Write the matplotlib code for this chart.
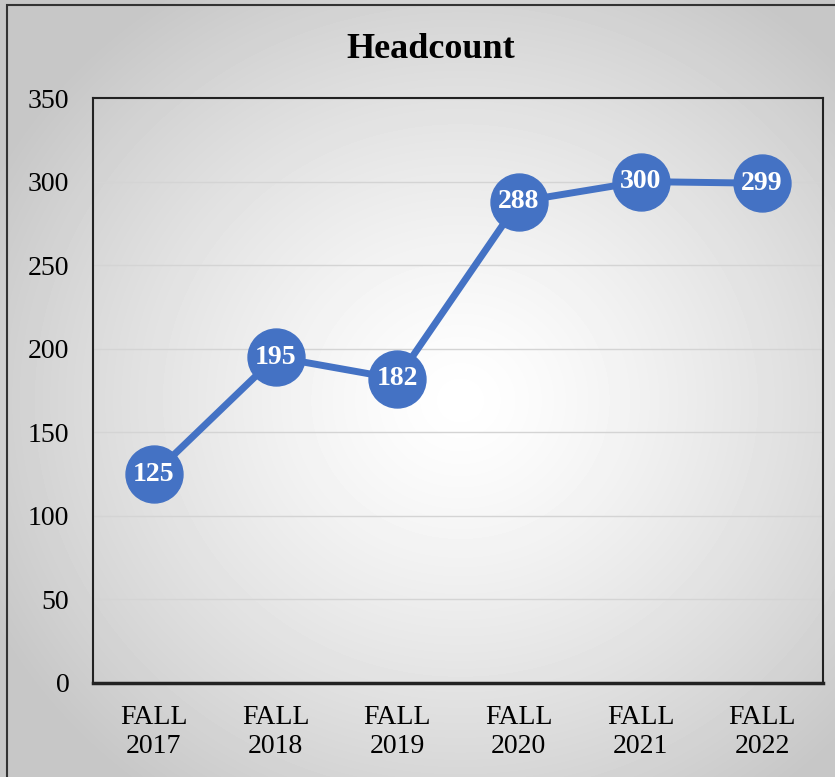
import numpy as np
import matplotlib.pyplot as plt
from matplotlib.patches import Rectangle

# ------- DATA -------
terms = ['FALL\n2017', 'FALL\n2018', 'FALL\n2019', 'FALL\n2020', 'FALL\n2021', 'FALL\n2022']
headcount = [125, 195, 182, 288, 300, 299]
yticks = [0, 50, 100, 150, 200, 250, 300, 350]

W, H = 835, 777
fig = plt.figure(figsize=(W / 100, H / 100), dpi=100)

# radial gradient background over the whole figure
bg = fig.add_axes([0, 0, 1, 1], zorder=-10)
yy, xx = np.mgrid[0:H, 0:W]
r = np.sqrt(((xx - 460) / 560.0) ** 2 + ((yy - 400) / 520.0) ** 2)
shade = np.clip(1.0 - 0.24 * r ** 1.3, 0.78, 1.0)
bg.imshow(shade, cmap='gray', vmin=0, vmax=1, aspect='auto', interpolation='bilinear')
bg.axis('off')

# outer frame (cut off at right and bottom in the original)
fig.patches.append(Rectangle((7 / W, -0.05), 1.2, 1 - 5 / H + 0.05, transform=fig.transFigure,
                             fill=False, edgecolor='#333333', linewidth=1.5))

ax = fig.add_axes([93 / W, 1 - 683 / H, 730 / W, 585 / H])
ax.patch.set_alpha(0)

x = np.arange(len(terms))
ax.plot(x, headcount, color='#4472C4', linewidth=5, marker='o', markersize=41,
        markerfacecolor='#4472C4', markeredgecolor='#4472C4', zorder=3, clip_on=False)
for xi, v in zip(x, headcount):
    ax.text(xi, v, str(v), ha='center', va='center', color='white', fontsize=20,
            fontweight='bold', family='Liberation Serif', zorder=4)

ax.set_xlim(-0.5, len(terms) - 0.5)
ax.set_ylim(0, 350)
ax.set_yticks(yticks)
ax.set_xticks(x)
ax.set_xticklabels(terms, family='Liberation Serif', fontsize=20, linespacing=1.2)
ax.set_yticklabels([str(t) for t in yticks], family='Liberation Serif', fontsize=20)
ax.tick_params(axis='y', length=0, pad=17)
ax.tick_params(axis='x', length=0, pad=16)
ax.grid(axis='y', color='#d4d4d4', linewidth=1)
ax.set_axisbelow(True)
for s in ax.spines.values():
    s.set_color('#222222')
    s.set_linewidth(1.5)
ax.spines['bottom'].set_linewidth(2.5)

fig.text(431 / W, 1 - 49 / H, 'Headcount', ha='center', va='center', fontsize=26,
         fontweight='bold', family='Liberation Serif')

fig.savefig('out.png', dpi=100)
